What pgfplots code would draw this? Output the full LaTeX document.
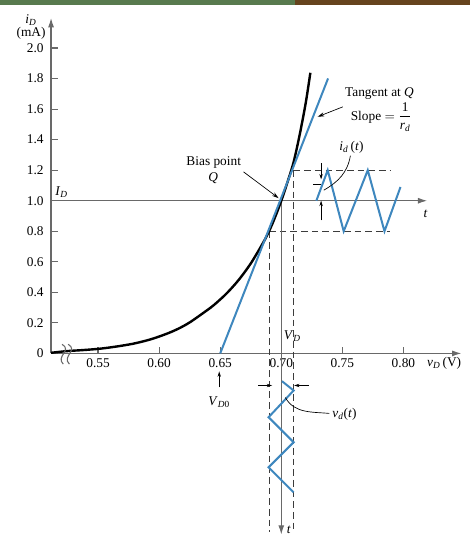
\documentclass[border=0pt]{standalone}
\usepackage{fontspec}
\setmainfont{Liberation Serif}
\usepackage{pgfplots}
\pgfplotsset{compat=1.18}
\usetikzlibrary{arrows.meta}
\definecolor{axisgray}{RGB}{105,105,105}
\definecolor{dashgray}{RGB}{60,60,60}
\definecolor{curveblue}{RGB}{62,135,190}
\definecolor{bargreen}{RGB}{88,122,78}
\definecolor{barbrown}{RGB}{102,68,30}
\newcommand{\sub}[2]{\textit{#1}\textsubscript{\textit{#2}}}
\begin{document}
\begin{tikzpicture}
\begin{axis}[
    x=915pt, y=114.375pt,
    xmin=0.5115, xmax=0.8475, ymin=0, ymax=2.197,
    axis lines=left,
    axis line style={axisgray, line width=0.9pt, -{Latex[length=7pt,width=4.5pt]}},
    clip=false,
    xtick={0.55,0.60,0.65,0.70,0.75,0.80},
    xticklabels={0.55,0.60,0.65,0.70,0.75,0.80},
    ytick={0,0.2,0.4,0.6,0.8,1.0,1.2,1.4,1.6,1.8,2.0},
    yticklabels={0,0.2,0.4,0.6,0.8,1.0,1.2,1.4,1.6,1.8,2.0},
    tick align=inside,
    major tick length=5pt,
    tick style={axisgray, line width=0.9pt},
    yticklabel style={xshift=-2pt},
]
% page extent and slide bar
\path (axis cs:0.4697,-1.2156) rectangle (axis cs:0.8541,2.3148);
\fill[bargreen] (axis cs:0.4697,2.282) rectangle (axis cs:0.7115,2.3148);
\fill[barbrown] (axis cs:0.7115,2.282) rectangle (axis cs:0.8541,2.3148);

% projections
\addplot[dashgray, line width=0.7pt, dash pattern=on 5pt off 3pt] coordinates {(0.69,0.8) (0.69,-1.17)};
\addplot[dashgray, line width=0.7pt, dash pattern=on 5pt off 3pt] coordinates {(0.71,1.2) (0.71,-1.17)};
\addplot[dashgray, line width=0.7pt, dash pattern=on 5pt off 3pt] coordinates {(0.69,0.8) (0.7894,0.8)};
\addplot[dashgray, line width=0.7pt, dash pattern=on 5pt off 3pt] coordinates {(0.71,1.2) (0.7894,1.2)};

% time axes
\addplot[axisgray, line width=0.9pt, -{Latex[length=7pt,width=4.5pt]}] coordinates {(0.5115,1.0) (0.8195,1.0)};
\addplot[axisgray, line width=0.9pt, -{Latex[length=7pt,width=4.5pt]}] coordinates {(0.70,1.0) (0.70,-1.187)};

% diode curve
\addplot[black, line width=1.8pt, smooth] coordinates {
    (0.5115,0.004) (0.5244,0.015) (0.5380,0.022) (0.5517,0.031) (0.5650,0.045)
    (0.5790,0.064) (0.5930,0.092) (0.6063,0.129) (0.6160,0.163) (0.6254,0.205)
    (0.6391,0.282) (0.6450,0.318) (0.6550,0.391) (0.6650,0.480) (0.6750,0.589)
    (0.6850,0.723) (0.6900,0.800) (0.6950,0.894) (0.7000,1.000) (0.7050,1.120)
    (0.7100,1.250) (0.7150,1.430) (0.7200,1.640) (0.7238,1.838)
};
% tangent
\addplot[curveblue, line width=1.5pt] coordinates {(0.65,0) (0.7383,1.801)};
% i_d(t)
\addplot[curveblue, line width=1.5pt] coordinates {
    (0.7287,1.0) (0.7380,1.2) (0.7511,0.8) (0.7708,1.2) (0.7845,0.8) (0.7976,1.09)
};
% v_d(t)
\addplot[curveblue, line width=1.5pt] coordinates {
    (0.7006,-0.182) (0.7101,-0.243) (0.6896,-0.418) (0.7101,-0.582) (0.6896,-0.746) (0.7101,-0.910)
};

% axis break
\draw[axisgray, line width=0.8pt] (axis cs:0.5205,0.06) .. controls (axis cs:0.5290,0.02) and (axis cs:0.5150,-0.02) .. (axis cs:0.5215,-0.07);
\draw[axisgray, line width=0.8pt] (axis cs:0.5255,0.06) .. controls (axis cs:0.5340,0.02) and (axis cs:0.5200,-0.02) .. (axis cs:0.5265,-0.07);

% annotation arrows
\draw[black, line width=0.5pt, -{Stealth[length=5pt,width=3pt]}] (axis cs:0.6691,1.189) -- (axis cs:0.6978,1.017);
\draw[black, line width=0.5pt, -{Stealth[length=5pt,width=3pt]}] (axis cs:0.7504,1.615) -- (axis cs:0.7298,1.55);
\draw[black, line width=0.5pt, -{Stealth[length=4pt,width=2.5pt]}] (axis cs:0.7326,1.246) -- (axis cs:0.7326,1.14);
\draw[black, line width=0.5pt] (axis cs:0.7261,1.107) -- (axis cs:0.7326,1.107);
\draw[black, line width=0.5pt, -{Stealth[length=4pt,width=2.5pt]}] (axis cs:0.7326,0.872) -- (axis cs:0.7326,1.0);
\draw[black, line width=0.5pt] (axis cs:0.7566,1.295) to[out=-100,in=30] (axis cs:0.7348,1.069);
\draw[black, line width=0.5pt, -{Stealth[length=4pt,width=2.5pt]}] (axis cs:0.6492,-0.223) -- (axis cs:0.6492,-0.118);
\draw[black, line width=0.5pt, -{Stealth[length=4pt,width=2.5pt]}] (axis cs:0.6812,-0.21) -- (axis cs:0.6925,-0.21);
\draw[black, line width=0.5pt, -{Stealth[length=4pt,width=2.5pt]}] (axis cs:0.7225,-0.21) -- (axis cs:0.7105,-0.21);
\draw[black, line width=0.5pt] (axis cs:0.7394,-0.393) to[out=175,in=-60] (axis cs:0.7033,-0.289);

% labels
\node at (axis cs:0.4951,2.184) {\sub{i}{D}};
\node at (axis cs:0.4951,2.098) {(mA)};
\node[anchor=north east, inner sep=0pt] at (axis cs:0.8475,-0.025) {\sub{v}{D}\,(V)};
\node at (axis cs:0.5201,1.058) {\sub{I}{D}};
\node at (axis cs:0.6447,1.25) {Bias point};
\node at (axis cs:0.6443,1.145) {\textit{Q}};
\node at (axis cs:0.7804,1.70) {Tangent at \textit{Q}};
\node at (axis cs:0.782,1.55) {Slope $=$ $\displaystyle\frac{\mbox{1}}{\mbox{\textit{r}}_{\mbox{\scriptsize\textit{d}}}}$};
\node at (axis cs:0.7574,1.351) {\sub{i}{d}\,(\textit{t})};
\node at (axis cs:0.8181,0.916) {\textit{t}};
\node at (axis cs:0.7061,-1.156) {\textit{t}};
\node at (axis cs:0.709,0.115) {\sub{V}{D}};
\node at (axis cs:0.6492,-0.321) {\textit{V}\textsubscript{\textit{D}0}};
\node[anchor=west] at (axis cs:0.738,-0.40) {\sub{v}{d}(\textit{t})};
\end{axis}
\end{tikzpicture}
\end{document}
